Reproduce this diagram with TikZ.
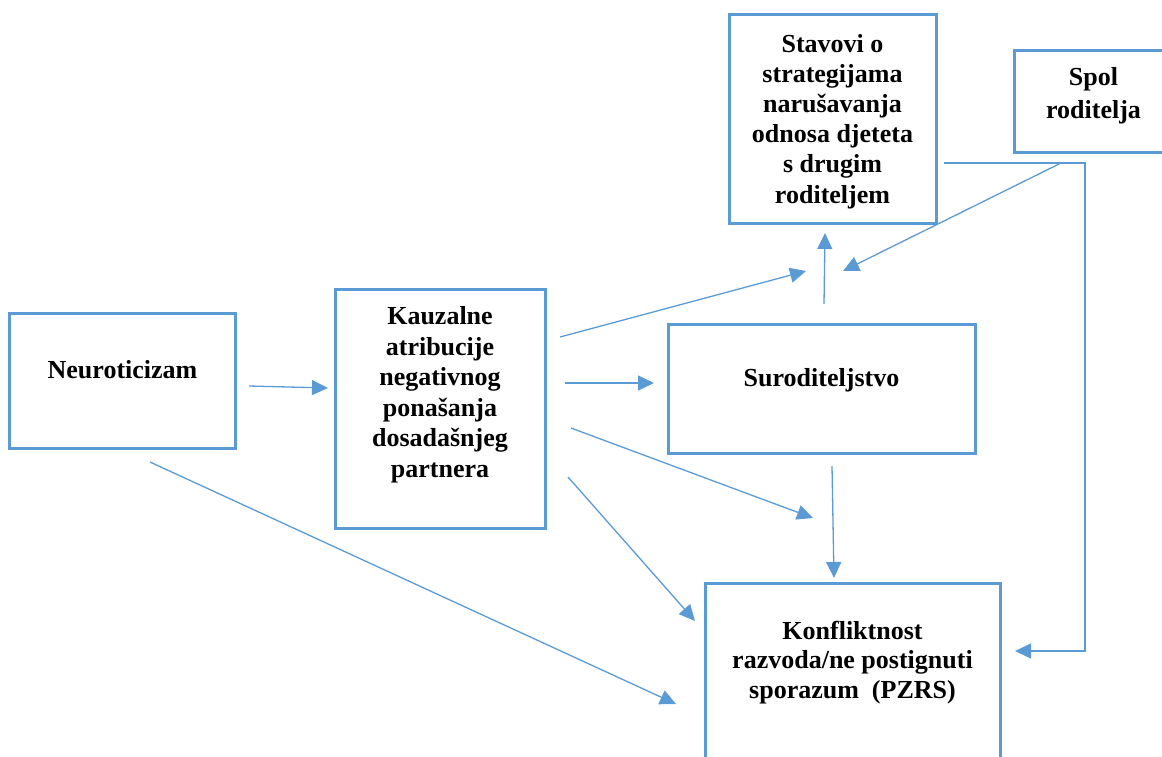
\documentclass[tikz,border=0pt]{standalone}
\usepackage{fontspec}
\setmainfont{Liberation Serif}
\usetikzlibrary{arrows.meta,positioning}
\definecolor{pathblue}{HTML}{5B9BD5}
\tikzstyle{frame} = [draw=pathblue,line width=3pt,rectangle,inner sep=0]
\tikzstyle{txt} = [align=center,inner sep=0,font=\fontsize{26}{30.5}\selectfont\bfseries]
\tikzstyle{link} = [draw=pathblue,line width=1.3pt,-{Triangle[length=16pt,width=15pt]}]
\def \tw {1pt}

\begin{document}
\begin{tikzpicture}[x=\tw,y=-\tw]
      \useasboundingbox (0,0) rectangle (1162,756);
      % boxes
      \node[frame,minimum width=226pt,minimum height=135pt] (neuro) at (122,380.5) {};
      \node[frame,minimum width=210pt,minimum height=239pt] (kauz) at (440.5,408.5) {};
      \node[frame,minimum width=307pt,minimum height=129pt] (surod) at (821.5,388.5) {};
      \node[frame,minimum width=207pt,minimum height=209pt] (stav) at (832.5,118.5) {};
      \node[frame,minimum width=186pt,minimum height=102pt] (spol) at (1107,101) {};
      \node[frame,minimum width=295pt,minimum height=217pt] (konf) at (852.5,691.5) {};
      % texts
      \node[txt,anchor=base] (neurot) at (122.5,378) {Neuroticizam};
      \node[txt] (kauzt) at (440,394.5) {Kauzalne\\atribucije\\negativnog\\ponašanja\\dosadašnjeg\\partnera};
      \node[txt,anchor=base] (surodt) at (821.5,386) {Suroditeljstvo};
      \node[txt,font=\fontsize{26}{30.2}\selectfont\bfseries] (stavt) at (832.5,121.3) {Stavovi o\\strategijama\\narušavanja\\odnosa djeteta\\s drugim\\roditeljem};
      \node[txt,font=\fontsize{26}{33}\selectfont\bfseries] (spolt) at (1093.5,95.3) {Spol\\roditelja};
      \node[txt,font=\fontsize{26}{29.5}\selectfont\bfseries] (konft) at (852.5,662.3) {Konfliktnost\\razvoda/ne postignuti\\sporazum\ \ (PZRS)};
      % connector ends
      \coordinate (neuroR) at (249,386);
      \coordinate (kauzL) at (328,388);
      \coordinate (kauzR) at (565,383);
      \coordinate (surodL) at (654,383);
      \coordinate (kauzUp) at (560,337);
      \coordinate (meet) at (806,271);
      \coordinate (surodUp) at (824,304);
      \coordinate (stavB) at (825,233);
      \coordinate (spolB) at (1061,163);
      \coordinate (meetR) at (843,271);
      \coordinate (stavR) at (944,163);
      \coordinate (bendT) at (1085,163);
      \coordinate (bendB) at (1085,651);
      \coordinate (konfR) at (1015,651);
      \coordinate (kauzMid) at (571,428);
      \coordinate (loose) at (813,518);
      \coordinate (surodB) at (832,466);
      \coordinate (konfT) at (834,578);
      \coordinate (kauzLow) at (568,477);
      \coordinate (konfTL) at (695,621);
      \coordinate (neuroB) at (150,462);
      \coordinate (konfL) at (676,704);
      % connectors
      \draw[link] (neuroR) -- (kauzL);
      \draw[link] (kauzR) -- (surodL);
      \draw[link] (kauzUp) -- (meet);
      \draw[link] (surodUp) -- (stavB);
      \draw[link] (spolB) -- (meetR);
      \draw[link] (stavR) -- (bendT) -- (bendB) -- (konfR);
      \draw[link] (kauzMid) -- (loose);
      \draw[link] (surodB) -- (konfT);
      \draw[link] (kauzLow) -- (konfTL);
      \draw[link] (neuroB) -- (konfL);
    \end{tikzpicture}
\end{document}
